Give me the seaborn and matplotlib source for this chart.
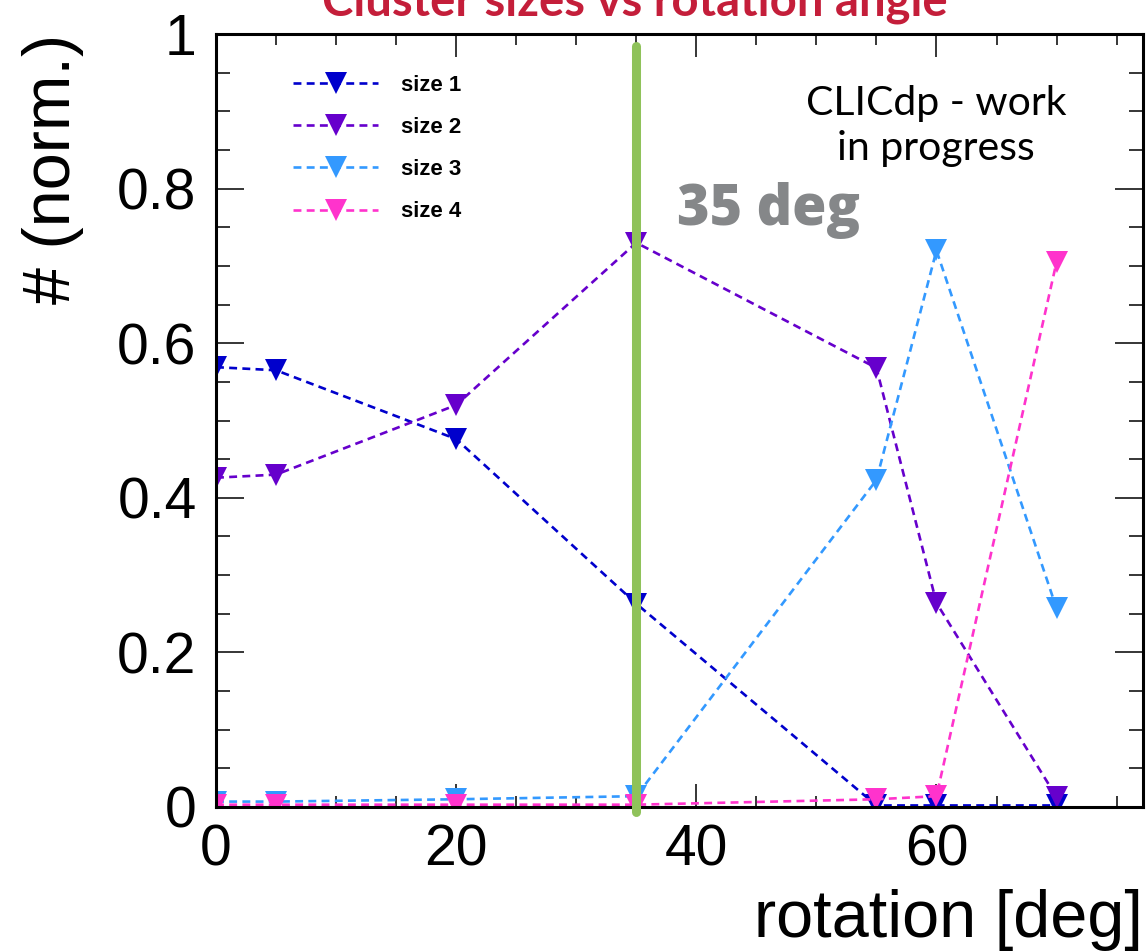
import matplotlib
matplotlib.use("Agg")
import matplotlib.pyplot as plt
from matplotlib.ticker import MultipleLocator, FuncFormatter
import seaborn as sns
import pandas as pd

# ---- data ----
rotation = [0, 5, 20, 35, 55, 60, 70]
size1 = [0.569, 0.565, 0.476, 0.263, 0.002, 0.002, 0.002]
size2 = [0.426, 0.430, 0.520, 0.730, 0.568, 0.264, 0.013]
size3 = [0.007, 0.007, 0.010, 0.014, 0.423, 0.720, 0.257]
size4 = [0.003, 0.003, 0.003, 0.003, 0.010, 0.014, 0.705]
series_names = ["size 1", "size 2", "size 3", "size 4"]
series_colors = ["#0000cc", "#6600cc", "#3399ff", "#ff33cc"]
marked_angle = 35

title_text = "Cluster sizes vs rotation angle"
x_label = "rotation [deg]"
y_label = "# (norm.)"
note_text = "CLICdp - work\nin progress"
angle_text = "35 deg"

sns.set_style("white")
plt.rcParams["font.family"] = ["Liberation Sans", "DejaVu Sans"]
plt.rcParams["text.color"] = "black"
plt.rcParams["axes.labelcolor"] = "black"
plt.rcParams["xtick.color"] = "black"
plt.rcParams["ytick.color"] = "black"

df = pd.DataFrame({"rotation": rotation * 4,
                   "value": size1 + size2 + size3 + size4,
                   "size": sum([[n] * len(rotation) for n in series_names], [])})

fig = plt.figure(figsize=(11.48, 9.52), dpi=100)
ax = fig.add_axes([216 / 1148, 1 - 807 / 952, 927 / 1148, 773 / 952])

for name, col in zip(series_names, series_colors):
    sub = df[df["size"] == name]
    sns.lineplot(data=sub, x="rotation", y="value", ax=ax, color=col, label=name,
                 marker="v", markersize=16, markeredgewidth=0, linewidth=1.9,
                 linestyle=(0, (3, 2)), errorbar=None, estimator=None, sort=False)

ax.axvline(marked_angle, ymin=-0.007, ymax=0.984, color="#8fc25a", linewidth=6.5,
           zorder=5, clip_on=False)

ax.set_xlim(0, 77.2)
ax.set_ylim(0, 1)
ax.xaxis.set_major_locator(MultipleLocator(20))
ax.xaxis.set_minor_locator(MultipleLocator(5))
ax.yaxis.set_major_locator(MultipleLocator(0.2))
ax.yaxis.set_minor_locator(MultipleLocator(0.05))
ax.yaxis.set_major_formatter(FuncFormatter(lambda v, p: "%g" % round(v, 3)))
ax.xaxis.set_major_formatter(FuncFormatter(lambda v, p: "%g" % round(v, 3)))
ax.xaxis.set_ticks_position("both")
ax.yaxis.set_ticks_position("both")

for s in ax.spines.values():
    s.set_linewidth(2.2)
    s.set_color("black")
    s.set_visible(True)

ax.tick_params(which="both", direction="in", top=True, right=True, bottom=True,
               left=True, width=1.1, color="black", labelcolor="black", labelsize=41)
ax.tick_params(axis="y", which="major", length=20, pad=14)
ax.tick_params(axis="y", which="minor", length=10)
ax.tick_params(axis="x", which="major", length=16.5, pad=12)
ax.tick_params(axis="x", which="minor", length=8)

ax.set_xlabel(x_label, fontsize=48, ha="right", va="baseline", color="black")
ax.xaxis.set_label_coords(1.0, -0.168)
ax.set_ylabel(y_label, fontsize=48, ha="right", va="bottom", color="black")
ax.yaxis.set_label_coords(-0.142, 1.0)

leg = ax.legend(loc="upper left", bbox_to_anchor=(0.083, 0.947), frameon=False,
                borderpad=0, borderaxespad=0, handlelength=3.85, handletextpad=1.0,
                labelspacing=0.95, prop={"weight": "bold", "size": 16})
for t in leg.get_texts():
    t.set_color("black")

ax.text(0.777, 0.881, note_text, transform=ax.transAxes, ha="center", va="center",
        fontsize=29.5, family=["Lato", "DejaVu Sans"], linespacing=1.27, color="black")
ax.text(0.497, 0.753, angle_text, transform=ax.transAxes, ha="left", va="baseline",
        fontsize=40, family=["Open Sans", "DejaVu Sans"], weight="heavy", color="#858789")

fig.text(635 / 1148, 1 - 16 / 952, title_text, ha="center", va="baseline",
         fontsize=34, family=["Lato", "DejaVu Sans"], weight="bold", color="#c41e3a")

fig.savefig("out.png", dpi=100, facecolor="white")
